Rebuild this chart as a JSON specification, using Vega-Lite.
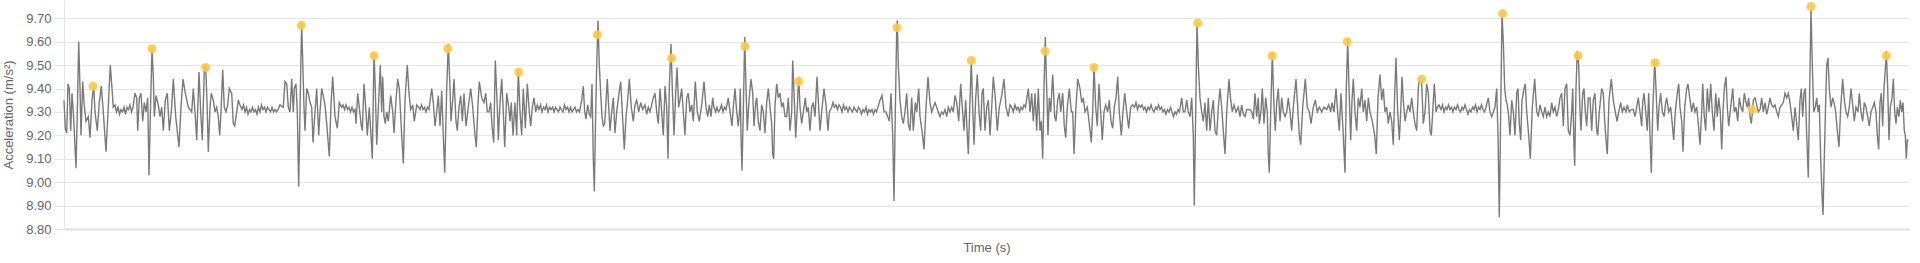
{
"$schema": "https://vega.github.io/schema/vega-lite/v6.json",
"width": 1845,
"height": 229,
"autosize": {"type": "none"},
"padding": {"left": 64, "top": 0, "right": 11, "bottom": 34},
"background": "white",
"config": {"view": {"stroke": null}, "font": "Liberation Sans"},
"datasets": {
"sig": [
{"t":0,"a":9.35},{"t":1.3,"a":9.23},{"t":2.7,"a":9.21},{"t":4,"a":9.42},{"t":5.3,"a":9.40},{"t":6.7,"a":9.22},{"t":8,"a":9.38},{"t":9.3,"a":9.30},{"t":10.7,"a":9.18},{"t":12,"a":9.06},{"t":13.3,"a":9.30},{"t":14.7,"a":9.60},{"t":16,"a":9.40},{"t":17,"a":9.20},{"t":18.7,"a":9.43},{"t":20,"a":9.34},{"t":22,"a":9.26},{"t":24.3,"a":9.28},{"t":26,"a":9.19},{"t":28,"a":9.35},{"t":29.7,"a":9.41},{"t":31,"a":9.30},{"t":33.3,"a":9.22},{"t":35.3,"a":9.34},{"t":37.3,"a":9.41},{"t":39.3,"a":9.30},{"t":42,"a":9.13},{"t":44,"a":9.30},{"t":46.3,"a":9.50},{"t":48,"a":9.40},{"t":49.3,"a":9.32},{"t":51,"a":9.33},{"t":52.5,"a":9.30},{"t":54,"a":9.32},{"t":55.5,"a":9.29},{"t":57,"a":9.31},{"t":58.5,"a":9.30},{"t":60,"a":9.32},{"t":61.5,"a":9.29},{"t":63,"a":9.32},{"t":64.5,"a":9.31},{"t":66,"a":9.33},{"t":67.5,"a":9.30},{"t":69,"a":9.32},{"t":71,"a":9.38},{"t":72.7,"a":9.36},{"t":73.7,"a":9.22},{"t":75.3,"a":9.36},{"t":77,"a":9.38},{"t":78.7,"a":9.26},{"t":80.3,"a":9.34},{"t":82,"a":9.30},{"t":83.7,"a":9.36},{"t":85,"a":9.03},{"t":86.7,"a":9.35},{"t":88,"a":9.57},{"t":89.3,"a":9.45},{"t":90.3,"a":9.28},{"t":92,"a":9.37},{"t":94.3,"a":9.33},{"t":96,"a":9.28},{"t":97.7,"a":9.32},{"t":99.3,"a":9.22},{"t":101.3,"a":9.35},{"t":103.3,"a":9.38},{"t":105.3,"a":9.22},{"t":107.3,"a":9.30},{"t":109.3,"a":9.44},{"t":111.7,"a":9.28},{"t":115,"a":9.15},{"t":117,"a":9.32},{"t":119,"a":9.44},{"t":121.3,"a":9.38},{"t":124.3,"a":9.32},{"t":127.7,"a":9.30},{"t":129.3,"a":9.40},{"t":131.3,"a":9.28},{"t":132.7,"a":9.18},{"t":135,"a":9.47},{"t":136.7,"a":9.30},{"t":138.3,"a":9.18},{"t":140.3,"a":9.48},{"t":141.7,"a":9.50},{"t":143.3,"a":9.30},{"t":144.3,"a":9.13},{"t":146,"a":9.32},{"t":147.3,"a":9.38},{"t":149.3,"a":9.35},{"t":151,"a":9.30},{"t":152.7,"a":9.32},{"t":154.3,"a":9.28},{"t":155.7,"a":9.20},{"t":157,"a":9.30},{"t":158.7,"a":9.48},{"t":160.3,"a":9.32},{"t":162,"a":9.30},{"t":163.7,"a":9.33},{"t":165.3,"a":9.40},
{"t":167.7,"a":9.38},{"t":169.3,"a":9.25},{"t":170.7,"a":9.24},{"t":172.7,"a":9.30},{"t":174.3,"a":9.35},{"t":176,"a":9.33},{"t":178,"a":9.31},{"t":179.5,"a":9.33},{"t":181,"a":9.30},{"t":182.5,"a":9.32},{"t":184,"a":9.29},{"t":185.5,"a":9.31},{"t":187,"a":9.30},{"t":188.5,"a":9.32},{"t":190,"a":9.30},{"t":191.5,"a":9.31},{"t":193,"a":9.29},{"t":194.5,"a":9.32},{"t":196,"a":9.30},{"t":197.5,"a":9.33},{"t":199,"a":9.31},{"t":200.5,"a":9.32},{"t":202,"a":9.30},{"t":203.5,"a":9.32},{"t":205,"a":9.31},{"t":206.5,"a":9.30},{"t":208,"a":9.32},{"t":209.5,"a":9.30},{"t":211,"a":9.31},{"t":212.5,"a":9.30},{"t":214,"a":9.31},{"t":216,"a":9.33},{"t":219.3,"a":9.32},{"t":221,"a":9.43},{"t":222.7,"a":9.42},{"t":224.3,"a":9.32},{"t":226,"a":9.30},{"t":227.7,"a":9.44},{"t":229.3,"a":9.30},{"t":230.3,"a":9.40},{"t":232,"a":9.42},{"t":233.3,"a":9.30},{"t":234.7,"a":8.98},{"t":236,"a":9.30},{"t":237,"a":9.55},{"t":237.7,"a":9.68},{"t":238.7,"a":9.52},{"t":240,"a":9.32},{"t":241,"a":9.22},{"t":242.7,"a":9.40},{"t":244.3,"a":9.38},{"t":246,"a":9.34},{"t":247.7,"a":9.32},{"t":249,"a":9.17},{"t":251,"a":9.30},{"t":252.7,"a":9.40},{"t":254.7,"a":9.20},{"t":256,"a":9.30},{"t":257.7,"a":9.40},{"t":261,"a":9.33},{"t":262.7,"a":9.25},{"t":265.3,"a":9.11},{"t":267,"a":9.33},{"t":268.7,"a":9.45},{"t":271,"a":9.28},{"t":273.3,"a":9.23},{"t":275.3,"a":9.34},{"t":277.5,"a":9.32},{"t":279,"a":9.33},{"t":280.5,"a":9.31},{"t":282,"a":9.33},{"t":283.5,"a":9.31},{"t":285,"a":9.32},{"t":286.5,"a":9.30},{"t":288,"a":9.32},{"t":289.5,"a":9.30},{"t":291,"a":9.31},{"t":292,"a":9.25},{"t":293.7,"a":9.38},{"t":295.3,"a":9.32},{"t":297,"a":9.25},{"t":298.3,"a":9.22},{"t":300,"a":9.42},{"t":302,"a":9.30},{"t":303.3,"a":9.20},{"t":305.3,"a":9.32},{"t":307,"a":9.20},{"t":308.3,"a":9.10},{"t":310,"a":9.55},{"t":311.3,"a":9.40},{"t":312.7,"a":9.16},{"t":314.7,"a":9.35},{"t":316.3,"a":9.50},{"t":317.7,"a":9.30},{"t":318.7,"a":9.45},{"t":320,"a":9.28},{"t":321.3,"a":9.25},{"t":322.7,"a":9.30},{"t":324.3,"a":9.26},{"t":326.7,"a":9.37},{"t":328.7,"a":9.30},{"t":330,"a":9.21},{"t":332,"a":9.35},{"t":333.7,"a":9.44},{"t":335.3,"a":9.40},
{"t":337.7,"a":9.20},{"t":339.3,"a":9.08},{"t":341,"a":9.35},{"t":343.3,"a":9.50},{"t":345,"a":9.38},{"t":346.7,"a":9.31},{"t":348.7,"a":9.33},{"t":350.3,"a":9.26},{"t":352.7,"a":9.33},{"t":354.5,"a":9.32},{"t":356,"a":9.31},{"t":357.5,"a":9.33},{"t":359,"a":9.31},{"t":360.5,"a":9.32},{"t":362,"a":9.30},{"t":363.5,"a":9.32},{"t":365,"a":9.31},{"t":367.7,"a":9.40},{"t":369.3,"a":9.34},{"t":371,"a":9.24},{"t":372.7,"a":9.30},{"t":374.3,"a":9.37},{"t":376,"a":9.24},{"t":377.7,"a":9.39},{"t":379.3,"a":9.20},{"t":380.7,"a":9.04},{"t":382.7,"a":9.40},{"t":384.3,"a":9.59},{"t":386,"a":9.40},{"t":387,"a":9.26},{"t":388.7,"a":9.35},{"t":390,"a":9.44},{"t":392,"a":9.26},{"t":393.3,"a":9.22},{"t":395,"a":9.32},{"t":396.7,"a":9.37},{"t":398.3,"a":9.26},{"t":400,"a":9.38},{"t":402,"a":9.24},{"t":404.3,"a":9.32},{"t":406.7,"a":9.40},{"t":408.7,"a":9.32},{"t":411,"a":9.20},{"t":412.3,"a":9.15},{"t":414,"a":9.33},{"t":415.3,"a":9.43},{"t":417.7,"a":9.36},{"t":420,"a":9.34},{"t":421.7,"a":9.38},{"t":423.3,"a":9.30},{"t":425,"a":9.30},{"t":426.7,"a":9.34},{"t":428,"a":9.24},{"t":429.7,"a":9.17},{"t":431.3,"a":9.52},{"t":433.3,"a":9.32},{"t":434.3,"a":9.18},{"t":436,"a":9.34},{"t":437.7,"a":9.44},{"t":439.3,"a":9.30},{"t":440.7,"a":9.15},{"t":442.7,"a":9.38},{"t":444.7,"a":9.32},{"t":446,"a":9.26},{"t":447.3,"a":9.34},{"t":449,"a":9.20},{"t":451,"a":9.34},{"t":452.7,"a":9.20},{"t":454.3,"a":9.48},{"t":456,"a":9.30},{"t":457.7,"a":9.20},{"t":459.3,"a":9.40},{"t":461.3,"a":9.23},{"t":463.3,"a":9.42},{"t":465.3,"a":9.30},{"t":466.7,"a":9.24},{"t":468.3,"a":9.32},{"t":470,"a":9.36},{"t":471.7,"a":9.30},{"t":473.3,"a":9.33},{"t":475,"a":9.31},{"t":476.5,"a":9.33},{"t":478,"a":9.30},{"t":479.5,"a":9.32},{"t":481,"a":9.31},{"t":482.5,"a":9.33},{"t":484,"a":9.30},{"t":485.5,"a":9.32},{"t":487,"a":9.31},{"t":488.5,"a":9.32},{"t":490,"a":9.30},{"t":491.5,"a":9.32},{"t":493,"a":9.31},{"t":494.5,"a":9.30},{"t":496,"a":9.32},{"t":497.5,"a":9.31},{"t":499,"a":9.30},{"t":500.5,"a":9.33},{"t":502,"a":9.31},{"t":503.5,"a":9.32},{"t":505,"a":9.30},
{"t":506.5,"a":9.32},{"t":508,"a":9.30},{"t":509.5,"a":9.31},{"t":511,"a":9.32},{"t":512.5,"a":9.30},{"t":514,"a":9.31},{"t":515.5,"a":9.30},{"t":517.7,"a":9.35},{"t":519.3,"a":9.41},{"t":520.7,"a":9.30},{"t":522,"a":9.27},{"t":523.7,"a":9.33},{"t":525.3,"a":9.29},{"t":526.7,"a":9.28},{"t":528,"a":9.42},{"t":529.3,"a":9.10},{"t":530.3,"a":8.96},{"t":531.7,"a":9.30},{"t":532.7,"a":9.50},{"t":534,"a":9.69},{"t":535.3,"a":9.50},{"t":536.7,"a":9.38},{"t":538,"a":9.28},{"t":539.3,"a":9.24},{"t":540.7,"a":9.25},{"t":542,"a":9.34},{"t":543.3,"a":9.44},{"t":544.7,"a":9.32},{"t":546,"a":9.22},{"t":547.7,"a":9.30},{"t":549.3,"a":9.36},{"t":551,"a":9.21},{"t":552.7,"a":9.30},{"t":555,"a":9.38},{"t":556.7,"a":9.43},{"t":558.3,"a":9.30},{"t":560.3,"a":9.14},{"t":562,"a":9.28},{"t":563.7,"a":9.35},{"t":565.3,"a":9.44},{"t":567.3,"a":9.32},{"t":569.3,"a":9.26},{"t":571,"a":9.33},{"t":572.7,"a":9.35},{"t":574.7,"a":9.30},{"t":576.7,"a":9.34},{"t":578.7,"a":9.31},{"t":581,"a":9.33},{"t":582.7,"a":9.29},{"t":584.3,"a":9.32},{"t":586,"a":9.30},{"t":587.7,"a":9.33},{"t":589.3,"a":9.36},{"t":591,"a":9.38},{"t":592.7,"a":9.30},{"t":594.3,"a":9.25},{"t":596,"a":9.40},{"t":597.7,"a":9.30},{"t":599.3,"a":9.20},{"t":601,"a":9.41},{"t":602.7,"a":9.32},{"t":604,"a":9.10},{"t":605.3,"a":9.40},{"t":607,"a":9.59},{"t":608.3,"a":9.40},{"t":610,"a":9.20},{"t":611.7,"a":9.38},{"t":613,"a":9.49},{"t":614.7,"a":9.32},{"t":616,"a":9.35},{"t":617.7,"a":9.40},{"t":619.3,"a":9.30},{"t":621,"a":9.20},{"t":622.7,"a":9.36},{"t":624.3,"a":9.38},{"t":626,"a":9.30},{"t":627.7,"a":9.33},{"t":629.3,"a":9.26},{"t":631.3,"a":9.43},{"t":633.3,"a":9.30},{"t":635.3,"a":9.26},{"t":637.7,"a":9.33},{"t":640,"a":9.43},{"t":642,"a":9.32},{"t":643.7,"a":9.28},{"t":645.3,"a":9.33},{"t":647,"a":9.28},{"t":648.7,"a":9.36},{"t":650,"a":9.32},{"t":651.7,"a":9.30},{"t":653,"a":9.32},{"t":654.5,"a":9.30},{"t":656,"a":9.31},{"t":657.5,"a":9.33},{"t":659,"a":9.30},{"t":660.5,"a":9.32},{"t":662,"a":9.31},{"t":664.3,"a":9.36},{"t":666,"a":9.30},{"t":668,"a":9.24},{"t":669.3,"a":9.32},{"t":671,"a":9.40},{"t":672.7,"a":9.30},{"t":674.3,"a":9.24},{"t":675.5,"a":9.30},{"t":676.3,"a":9.40},{"t":677,"a":9.20},{"t":678,"a":9.05},
{"t":679.3,"a":9.30},{"t":680.7,"a":9.62},{"t":682,"a":9.40},{"t":683.3,"a":9.22},{"t":685,"a":9.35},{"t":687,"a":9.44},{"t":688.7,"a":9.38},{"t":690,"a":9.24},{"t":691.7,"a":9.34},{"t":692.7,"a":9.36},{"t":694.3,"a":9.26},{"t":696,"a":9.22},{"t":697.7,"a":9.33},{"t":699.3,"a":9.30},{"t":701,"a":9.21},{"t":702.7,"a":9.34},{"t":704.3,"a":9.40},{"t":706,"a":9.32},{"t":707.7,"a":9.25},{"t":708.7,"a":9.12},{"t":709.7,"a":9.10},{"t":711,"a":9.33},{"t":712.7,"a":9.42},{"t":714.3,"a":9.36},{"t":716,"a":9.38},{"t":717.7,"a":9.32},{"t":719.3,"a":9.34},{"t":721,"a":9.28},{"t":722.7,"a":9.28},{"t":724.3,"a":9.36},{"t":726,"a":9.22},{"t":727.7,"a":9.30},{"t":728.7,"a":9.52},{"t":730.3,"a":9.35},{"t":731.7,"a":9.19},{"t":733.3,"a":9.32},{"t":734.7,"a":9.45},{"t":736,"a":9.32},{"t":737.7,"a":9.25},{"t":739.3,"a":9.30},{"t":741.3,"a":9.36},{"t":742.7,"a":9.30},{"t":744.3,"a":9.32},{"t":746,"a":9.22},{"t":747.7,"a":9.32},{"t":749.3,"a":9.34},{"t":751,"a":9.28},{"t":753,"a":9.45},{"t":754.7,"a":9.32},{"t":756,"a":9.22},{"t":757.7,"a":9.30},{"t":760,"a":9.40},{"t":762,"a":9.33},{"t":764,"a":9.22},{"t":765.3,"a":9.30},{"t":767.7,"a":9.32},{"t":769,"a":9.34},{"t":770.5,"a":9.32},{"t":772,"a":9.33},{"t":773.5,"a":9.31},{"t":775,"a":9.33},{"t":776.5,"a":9.32},{"t":778,"a":9.30},{"t":779.5,"a":9.33},{"t":781,"a":9.31},{"t":782.5,"a":9.32},{"t":784,"a":9.30},{"t":785.5,"a":9.32},{"t":787,"a":9.31},{"t":788.5,"a":9.30},{"t":790,"a":9.32},{"t":791.5,"a":9.31},{"t":793,"a":9.30},{"t":794.5,"a":9.32},{"t":796,"a":9.31},{"t":797.5,"a":9.29},{"t":799,"a":9.31},{"t":800.5,"a":9.30},{"t":802,"a":9.32},{"t":803.5,"a":9.29},{"t":805,"a":9.31},{"t":806.5,"a":9.30},{"t":808,"a":9.31},{"t":809.5,"a":9.29},{"t":811,"a":9.31},{"t":812.5,"a":9.30},{"t":816,"a":9.35},{"t":818,"a":9.37},{"t":820,"a":9.30},{"t":822,"a":9.30},{"t":823.7,"a":9.28},{"t":825.3,"a":9.26},{"t":827,"a":9.38},{"t":828.7,"a":9.20},{"t":830,"a":8.92},{"t":831.3,"a":9.30},{"t":832.7,"a":9.65},{"t":833.3,"a":9.69},{"t":834.3,"a":9.50},{"t":836,"a":9.35},{"t":837.7,"a":9.28},{"t":839.3,"a":9.25},{"t":841,"a":9.30},{"t":842.7,"a":9.38},{"t":844.3,"a":9.25},{"t":846,"a":9.22},
{"t":847.7,"a":9.36},{"t":849.3,"a":9.22},{"t":851.3,"a":9.34},{"t":852.7,"a":9.30},{"t":854.7,"a":9.40},{"t":856,"a":9.28},{"t":858,"a":9.22},{"t":860,"a":9.14},{"t":862,"a":9.32},{"t":864,"a":9.45},{"t":866,"a":9.34},{"t":867.7,"a":9.30},{"t":869.3,"a":9.32},{"t":871,"a":9.34},{"t":872.7,"a":9.32},{"t":874.3,"a":9.30},{"t":876,"a":9.28},{"t":877.7,"a":9.30},{"t":879.3,"a":9.29},{"t":881,"a":9.31},{"t":882.7,"a":9.28},{"t":884.3,"a":9.32},{"t":886,"a":9.30},{"t":887.7,"a":9.32},{"t":889.3,"a":9.30},{"t":891,"a":9.37},{"t":892.7,"a":9.34},{"t":894.7,"a":9.26},{"t":896.7,"a":9.42},{"t":898.3,"a":9.32},{"t":900,"a":9.22},{"t":901.7,"a":9.35},{"t":903.3,"a":9.20},{"t":904.3,"a":9.12},{"t":906,"a":9.35},{"t":907.3,"a":9.52},{"t":908.7,"a":9.32},{"t":910,"a":9.16},{"t":911.7,"a":9.36},{"t":913.3,"a":9.46},{"t":915,"a":9.30},{"t":916.7,"a":9.22},{"t":918,"a":9.38},{"t":919.3,"a":9.40},{"t":921,"a":9.22},{"t":922.7,"a":9.32},{"t":924.3,"a":9.35},{"t":926,"a":9.20},{"t":927.7,"a":9.32},{"t":929.3,"a":9.45},{"t":931.3,"a":9.36},{"t":933.3,"a":9.22},{"t":935.3,"a":9.32},{"t":937.7,"a":9.37},{"t":940,"a":9.44},{"t":942,"a":9.32},{"t":944.3,"a":9.28},{"t":946,"a":9.33},{"t":947.7,"a":9.32},{"t":949.3,"a":9.30},{"t":951,"a":9.33},{"t":952.5,"a":9.31},{"t":954,"a":9.32},{"t":955.5,"a":9.30},{"t":957,"a":9.32},{"t":958.5,"a":9.31},{"t":960,"a":9.33},{"t":961.5,"a":9.32},{"t":964.3,"a":9.40},{"t":966,"a":9.30},{"t":967.7,"a":9.38},{"t":969.3,"a":9.26},{"t":971,"a":9.38},{"t":972.7,"a":9.22},{"t":974.3,"a":9.40},{"t":976,"a":9.22},{"t":977.3,"a":9.26},{"t":978.7,"a":9.10},{"t":980,"a":9.40},{"t":981.3,"a":9.62},{"t":982.7,"a":9.40},{"t":984,"a":9.20},{"t":985.3,"a":9.36},{"t":986.7,"a":9.30},{"t":988.7,"a":9.46},{"t":990.7,"a":9.28},{"t":992,"a":9.26},{"t":993.7,"a":9.35},{"t":995.3,"a":9.38},{"t":996.7,"a":9.30},{"t":998.7,"a":9.38},{"t":1000.3,"a":9.24},{"t":1001.7,"a":9.19},{"t":1003.3,"a":9.32},{"t":1005.3,"a":9.40},{"t":1007.3,"a":9.30},{"t":1008.7,"a":9.30},{"t":1010,"a":9.12},{"t":1011.7,"a":9.30},{"t":1013.7,"a":9.44},{"t":1016,"a":9.40},
{"t":1017.7,"a":9.34},{"t":1019.3,"a":9.36},{"t":1021,"a":9.30},{"t":1023.3,"a":9.32},{"t":1025.3,"a":9.25},{"t":1027.3,"a":9.17},{"t":1028.7,"a":9.30},{"t":1030,"a":9.50},{"t":1031.7,"a":9.32},{"t":1033.3,"a":9.24},{"t":1035,"a":9.42},{"t":1036.7,"a":9.30},{"t":1038.3,"a":9.18},{"t":1040,"a":9.30},{"t":1041.7,"a":9.33},{"t":1043.7,"a":9.30},{"t":1045.3,"a":9.35},{"t":1047,"a":9.26},{"t":1048.7,"a":9.23},{"t":1050.3,"a":9.32},{"t":1052,"a":9.36},{"t":1053.7,"a":9.45},{"t":1055.3,"a":9.30},{"t":1057.3,"a":9.20},{"t":1059,"a":9.30},{"t":1060.7,"a":9.38},{"t":1062.7,"a":9.30},{"t":1064.7,"a":9.23},{"t":1066.7,"a":9.32},{"t":1068.7,"a":9.33},{"t":1070.5,"a":9.32},{"t":1072,"a":9.34},{"t":1073.5,"a":9.31},{"t":1075,"a":9.33},{"t":1076.5,"a":9.32},{"t":1078,"a":9.33},{"t":1079.5,"a":9.31},{"t":1081,"a":9.32},{"t":1082.5,"a":9.30},{"t":1084,"a":9.32},{"t":1085.5,"a":9.31},{"t":1087,"a":9.33},{"t":1088.5,"a":9.31},{"t":1090,"a":9.30},{"t":1091.5,"a":9.32},{"t":1093,"a":9.31},{"t":1094.5,"a":9.33},{"t":1096,"a":9.31},{"t":1097.5,"a":9.32},{"t":1099,"a":9.30},{"t":1100.5,"a":9.31},{"t":1102,"a":9.29},{"t":1103.5,"a":9.31},{"t":1105,"a":9.30},{"t":1106.5,"a":9.32},{"t":1108,"a":9.30},{"t":1109.5,"a":9.28},{"t":1111,"a":9.30},{"t":1112.5,"a":9.29},{"t":1114,"a":9.31},{"t":1115.5,"a":9.30},{"t":1117.7,"a":9.36},{"t":1119.3,"a":9.30},{"t":1121,"a":9.30},{"t":1122.7,"a":9.35},{"t":1124.3,"a":9.30},{"t":1126,"a":9.28},{"t":1127.7,"a":9.36},{"t":1129.3,"a":9.20},{"t":1130.3,"a":8.90},{"t":1131.7,"a":9.30},{"t":1133,"a":9.68},{"t":1134.3,"a":9.50},{"t":1136,"a":9.36},{"t":1137.7,"a":9.30},{"t":1139.3,"a":9.26},{"t":1141,"a":9.34},{"t":1142.7,"a":9.22},{"t":1144.3,"a":9.36},{"t":1146,"a":9.22},{"t":1147.7,"a":9.30},{"t":1149.3,"a":9.35},{"t":1151,"a":9.22},{"t":1152.7,"a":9.20},{"t":1154.3,"a":9.32},{"t":1156,"a":9.40},{"t":1157.7,"a":9.32},{"t":1159.3,"a":9.22},{"t":1161,"a":9.12},{"t":1162.7,"a":9.30},{"t":1165,"a":9.44},{"t":1166.7,"a":9.35},{"t":1168.3,"a":9.30},{"t":1170,"a":9.33},{"t":1172,"a":9.30},{"t":1174.3,"a":9.32},{"t":1176,"a":9.28},{"t":1177.7,"a":9.33},{"t":1179.3,"a":9.29},{"t":1181,"a":9.28},{"t":1182.7,"a":9.31},{"t":1186,"a":9.31},
{"t":1187.7,"a":9.30},{"t":1189.3,"a":9.27},{"t":1191,"a":9.38},{"t":1192.7,"a":9.28},{"t":1194.3,"a":9.36},{"t":1195.3,"a":9.25},{"t":1197,"a":9.30},{"t":1198.3,"a":9.40},{"t":1200,"a":9.25},{"t":1201.7,"a":9.36},{"t":1203.3,"a":9.30},{"t":1204.3,"a":9.12},{"t":1205.3,"a":9.04},{"t":1206.7,"a":9.30},{"t":1208.3,"a":9.55},{"t":1210,"a":9.32},{"t":1211.3,"a":9.22},{"t":1212.7,"a":9.34},{"t":1214.3,"a":9.40},{"t":1216,"a":9.26},{"t":1217.7,"a":9.36},{"t":1219.3,"a":9.30},{"t":1221,"a":9.28},{"t":1222.7,"a":9.30},{"t":1224.3,"a":9.36},{"t":1226,"a":9.30},{"t":1227.7,"a":9.22},{"t":1229.3,"a":9.32},{"t":1232,"a":9.44},{"t":1233.7,"a":9.32},{"t":1235.3,"a":9.20},{"t":1236.7,"a":9.16},{"t":1238.7,"a":9.32},{"t":1241.3,"a":9.44},{"t":1243.3,"a":9.32},{"t":1245.3,"a":9.30},{"t":1247,"a":9.25},{"t":1249.3,"a":9.32},{"t":1251.3,"a":9.35},{"t":1253.3,"a":9.30},{"t":1255.3,"a":9.32},{"t":1257.7,"a":9.30},{"t":1260,"a":9.32},{"t":1262.7,"a":9.31},{"t":1264.7,"a":9.33},{"t":1266.7,"a":9.30},{"t":1268,"a":9.34},{"t":1270,"a":9.30},{"t":1272,"a":9.40},{"t":1274,"a":9.28},{"t":1275.3,"a":9.22},{"t":1277,"a":9.38},{"t":1278,"a":9.30},{"t":1279.3,"a":9.20},{"t":1281,"a":9.04},{"t":1282.3,"a":9.40},{"t":1283.7,"a":9.61},{"t":1285,"a":9.40},{"t":1286.7,"a":9.18},{"t":1288,"a":9.35},{"t":1289.3,"a":9.44},{"t":1291,"a":9.30},{"t":1292.7,"a":9.22},{"t":1294.3,"a":9.36},{"t":1296,"a":9.32},{"t":1297.7,"a":9.40},{"t":1299.3,"a":9.30},{"t":1301,"a":9.35},{"t":1302.7,"a":9.26},{"t":1304.3,"a":9.36},{"t":1306,"a":9.30},{"t":1308.3,"a":9.26},{"t":1310.7,"a":9.20},{"t":1312.3,"a":9.12},{"t":1314,"a":9.36},{"t":1316,"a":9.46},{"t":1317.7,"a":9.35},{"t":1319.3,"a":9.40},{"t":1321,"a":9.30},{"t":1322.7,"a":9.32},{"t":1324.3,"a":9.25},{"t":1326,"a":9.30},{"t":1327.7,"a":9.26},{"t":1329.3,"a":9.16},{"t":1330.7,"a":9.38},{"t":1332,"a":9.53},{"t":1333.7,"a":9.30},{"t":1335.3,"a":9.18},{"t":1336.7,"a":9.30},{"t":1338,"a":9.45},{"t":1339.3,"a":9.35},{"t":1341,"a":9.26},{"t":1342.7,"a":9.30},{"t":1344.3,"a":9.33},{"t":1346,"a":9.30},{"t":1347.7,"a":9.36},{"t":1349.3,"a":9.30},{"t":1351,"a":9.25},{"t":1352.7,"a":9.22},{"t":1354.3,"a":9.40},{"t":1355.3,"a":9.44},
{"t":1357.7,"a":9.42},{"t":1359.3,"a":9.25},{"t":1361,"a":9.30},{"t":1362.7,"a":9.42},{"t":1364.3,"a":9.38},{"t":1366,"a":9.22},{"t":1367.3,"a":9.20},{"t":1368.7,"a":9.30},{"t":1370.3,"a":9.42},{"t":1372,"a":9.30},{"t":1373.3,"a":9.32},{"t":1375,"a":9.33},{"t":1377,"a":9.31},{"t":1378.5,"a":9.33},{"t":1380,"a":9.30},{"t":1381.5,"a":9.32},{"t":1383,"a":9.31},{"t":1384.5,"a":9.33},{"t":1386,"a":9.31},{"t":1387.5,"a":9.32},{"t":1389,"a":9.30},{"t":1390.5,"a":9.32},{"t":1392,"a":9.31},{"t":1393.5,"a":9.33},{"t":1395,"a":9.31},{"t":1396.5,"a":9.30},{"t":1398,"a":9.32},{"t":1399.5,"a":9.31},{"t":1401,"a":9.33},{"t":1402.5,"a":9.31},{"t":1404,"a":9.29},{"t":1405.5,"a":9.31},{"t":1407,"a":9.30},{"t":1408.5,"a":9.32},{"t":1410,"a":9.31},{"t":1411.5,"a":9.33},{"t":1413,"a":9.30},{"t":1414.5,"a":9.32},{"t":1416,"a":9.31},{"t":1417.5,"a":9.33},{"t":1419,"a":9.31},{"t":1420.5,"a":9.30},{"t":1422,"a":9.32},{"t":1424.3,"a":9.36},{"t":1426,"a":9.30},{"t":1427.7,"a":9.28},{"t":1429.3,"a":9.30},{"t":1431,"a":9.32},{"t":1432.7,"a":9.40},{"t":1434,"a":9.20},{"t":1435.3,"a":8.85},{"t":1436.7,"a":9.30},{"t":1438,"a":9.72},{"t":1439.3,"a":9.60},{"t":1440.7,"a":9.40},{"t":1442,"a":9.35},{"t":1443.3,"a":9.33},{"t":1444.7,"a":9.28},{"t":1446,"a":9.20},{"t":1447.7,"a":9.35},{"t":1449.3,"a":9.30},{"t":1451,"a":9.20},{"t":1452.7,"a":9.38},{"t":1454,"a":9.40},{"t":1455.3,"a":9.25},{"t":1456.7,"a":9.18},{"t":1458,"a":9.35},{"t":1460,"a":9.40},{"t":1461.3,"a":9.42},{"t":1462.7,"a":9.30},{"t":1464.7,"a":9.20},{"t":1466.3,"a":9.10},{"t":1468.3,"a":9.32},{"t":1470.7,"a":9.44},{"t":1472.7,"a":9.30},{"t":1474.3,"a":9.28},{"t":1476,"a":9.33},{"t":1477.7,"a":9.30},{"t":1479.3,"a":9.28},{"t":1481,"a":9.32},{"t":1482.7,"a":9.28},{"t":1484.3,"a":9.30},{"t":1486,"a":9.28},{"t":1487.7,"a":9.34},{"t":1489.3,"a":9.30},{"t":1491,"a":9.32},{"t":1492.7,"a":9.28},{"t":1494.3,"a":9.31},{"t":1496,"a":9.36},{"t":1497.7,"a":9.38},{"t":1499.3,"a":9.24},{"t":1501,"a":9.40},{"t":1502.7,"a":9.42},{"t":1504.3,"a":9.22},{"t":1506,"a":9.20},{"t":1507.7,"a":9.30},{"t":1508.7,"a":9.40},{"t":1510,"a":9.15},{"t":1510.7,"a":9.07},{"t":1512,"a":9.40},{"t":1513.3,"a":9.56},{"t":1514.7,"a":9.50},{"t":1516,"a":9.30},{"t":1517,"a":9.22},{"t":1518.7,"a":9.38},{"t":1520,"a":9.40},{"t":1521.3,"a":9.30},{"t":1522.7,"a":9.24},{"t":1524.3,"a":9.36},{"t":1526,"a":9.36},
{"t":1527.7,"a":9.22},{"t":1529.3,"a":9.35},{"t":1531,"a":9.38},{"t":1532.7,"a":9.22},{"t":1533.7,"a":9.20},{"t":1535.3,"a":9.30},{"t":1537.7,"a":9.40},{"t":1539.3,"a":9.38},{"t":1540.7,"a":9.26},{"t":1542,"a":9.18},{"t":1543.3,"a":9.12},{"t":1545,"a":9.35},{"t":1547.3,"a":9.44},{"t":1549.3,"a":9.35},{"t":1551.3,"a":9.30},{"t":1553,"a":9.26},{"t":1554.7,"a":9.30},{"t":1556.7,"a":9.34},{"t":1558.3,"a":9.30},{"t":1560,"a":9.32},{"t":1562,"a":9.30},{"t":1563.3,"a":9.33},{"t":1565.3,"a":9.30},{"t":1567.3,"a":9.31},{"t":1569.3,"a":9.31},{"t":1571,"a":9.28},{"t":1572.7,"a":9.32},{"t":1574.3,"a":9.36},{"t":1576,"a":9.30},{"t":1577.7,"a":9.24},{"t":1578.7,"a":9.34},{"t":1580,"a":9.38},{"t":1581.7,"a":9.30},{"t":1583.3,"a":9.22},{"t":1584.7,"a":9.38},{"t":1586,"a":9.20},{"t":1587.3,"a":9.04},{"t":1588.7,"a":9.30},{"t":1590.7,"a":9.52},{"t":1592,"a":9.40},{"t":1593.7,"a":9.22},{"t":1595,"a":9.32},{"t":1596.7,"a":9.38},{"t":1598.3,"a":9.30},{"t":1600,"a":9.28},{"t":1601.7,"a":9.34},{"t":1602.7,"a":9.36},{"t":1604.7,"a":9.30},{"t":1606.7,"a":9.32},{"t":1608,"a":9.26},{"t":1609.7,"a":9.18},{"t":1611.3,"a":9.30},{"t":1613.3,"a":9.38},{"t":1614.7,"a":9.42},{"t":1616,"a":9.32},{"t":1617.7,"a":9.26},{"t":1619,"a":9.13},{"t":1620.7,"a":9.32},{"t":1622.7,"a":9.40},{"t":1624,"a":9.42},{"t":1626,"a":9.35},{"t":1627.7,"a":9.30},{"t":1629.3,"a":9.34},{"t":1631,"a":9.30},{"t":1632.7,"a":9.32},{"t":1634.3,"a":9.25},{"t":1636,"a":9.16},{"t":1637.7,"a":9.30},{"t":1638.7,"a":9.42},{"t":1640.3,"a":9.28},{"t":1641.7,"a":9.22},{"t":1643.3,"a":9.40},{"t":1645,"a":9.30},{"t":1646.7,"a":9.42},{"t":1648.3,"a":9.30},{"t":1650,"a":9.22},{"t":1651.7,"a":9.38},{"t":1653.3,"a":9.28},{"t":1654.7,"a":9.36},{"t":1656.3,"a":9.30},{"t":1657.7,"a":9.14},{"t":1659,"a":9.30},{"t":1660.3,"a":9.40},{"t":1662,"a":9.45},{"t":1663.3,"a":9.32},{"t":1664.7,"a":9.24},{"t":1666.7,"a":9.32},{"t":1668.7,"a":9.40},{"t":1670.3,"a":9.30},{"t":1672,"a":9.32},{"t":1673.7,"a":9.26},{"t":1675.3,"a":9.36},{"t":1677,"a":9.32},{"t":1678.7,"a":9.30},{"t":1680.3,"a":9.38},{"t":1682,"a":9.34},{"t":1683.3,"a":9.32},{"t":1684.7,"a":9.36},{"t":1686,"a":9.28},{"t":1687.3,"a":9.25},{"t":1688.7,"a":9.31},{"t":1689.3,"a":9.35},{"t":1691,"a":9.36},{"t":1692.7,"a":9.33},{"t":1694.3,"a":9.30},{"t":1696,"a":9.31},
{"t":1697.7,"a":9.36},{"t":1699.3,"a":9.30},{"t":1701,"a":9.34},{"t":1702.7,"a":9.29},{"t":1704.3,"a":9.32},{"t":1706,"a":9.36},{"t":1707.7,"a":9.33},{"t":1709.3,"a":9.32},{"t":1711,"a":9.33},{"t":1712.7,"a":9.30},{"t":1714.3,"a":9.28},{"t":1716,"a":9.32},{"t":1717.7,"a":9.33},{"t":1719.3,"a":9.34},{"t":1721,"a":9.38},{"t":1722.7,"a":9.36},{"t":1724.3,"a":9.38},{"t":1726,"a":9.34},{"t":1727.7,"a":9.28},{"t":1729.3,"a":9.22},{"t":1731,"a":9.32},{"t":1732.7,"a":9.25},{"t":1734.3,"a":9.18},{"t":1736,"a":9.35},{"t":1737.3,"a":9.40},{"t":1738.7,"a":9.28},{"t":1740,"a":9.38},{"t":1741.3,"a":9.40},{"t":1742.7,"a":9.20},{"t":1744.3,"a":9.02},{"t":1745.7,"a":9.40},{"t":1747,"a":9.74},{"t":1748.3,"a":9.50},{"t":1749.7,"a":9.30},{"t":1751.3,"a":9.32},{"t":1752.7,"a":9.36},{"t":1754,"a":9.30},{"t":1755.3,"a":9.33},{"t":1756.7,"a":9.10},{"t":1758,"a":8.95},{"t":1759,"a":8.86},{"t":1760.3,"a":9.10},{"t":1761.7,"a":9.35},{"t":1762.7,"a":9.50},{"t":1764,"a":9.53},{"t":1765.3,"a":9.40},{"t":1767,"a":9.32},{"t":1768.7,"a":9.36},{"t":1770,"a":9.34},{"t":1771.7,"a":9.30},{"t":1773.3,"a":9.22},{"t":1775,"a":9.15},{"t":1776.7,"a":9.32},{"t":1778.7,"a":9.44},{"t":1780.3,"a":9.35},{"t":1782,"a":9.30},{"t":1783.7,"a":9.28},{"t":1785.3,"a":9.32},{"t":1787,"a":9.40},{"t":1788.7,"a":9.33},{"t":1790.3,"a":9.26},{"t":1792,"a":9.32},{"t":1794,"a":9.30},{"t":1795.3,"a":9.38},{"t":1797,"a":9.30},{"t":1798.7,"a":9.26},{"t":1800.3,"a":9.34},{"t":1802,"a":9.32},{"t":1803.7,"a":9.28},{"t":1805.3,"a":9.24},{"t":1807,"a":9.30},{"t":1808.7,"a":9.32},{"t":1810.3,"a":9.34},{"t":1812,"a":9.30},{"t":1813.3,"a":9.20},{"t":1814.7,"a":9.14},{"t":1816,"a":9.34},{"t":1817.3,"a":9.38},{"t":1818.7,"a":9.24},{"t":1820,"a":9.40},{"t":1821.3,"a":9.48},{"t":1822.3,"a":9.56},{"t":1823.7,"a":9.40},{"t":1825,"a":9.18},{"t":1826.3,"a":9.32},{"t":1828,"a":9.36},{"t":1829.3,"a":9.44},{"t":1830.7,"a":9.30},{"t":1832,"a":9.25},{"t":1833.3,"a":9.32},{"t":1835,"a":9.28},{"t":1836.3,"a":9.35},{"t":1837.7,"a":9.30},{"t":1839,"a":9.34},{"t":1840.3,"a":9.22},{"t":1841.3,"a":9.20},{"t":1842.3,"a":9.10},{"t":1843.3,"a":9.18},{"t":1844.3,"a":9.18}
],
"pk": [
{"t":29.0,"a":9.41},{"t":88.0,"a":9.57},{"t":141.7,"a":9.49},{"t":237.3,"a":9.67},{"t":310.0,"a":9.54},{"t":383.7,"a":9.57},{"t":454.7,"a":9.47},{"t":533.3,"a":9.63},{"t":607.7,"a":9.53},{"t":681.0,"a":9.58},{"t":734.7,"a":9.43},{"t":833.0,"a":9.66},{"t":907.3,"a":9.52},{"t":981.0,"a":9.56},{"t":1030.0,"a":9.49},{"t":1133.7,"a":9.68},{"t":1208.3,"a":9.54},{"t":1283.3,"a":9.60},{"t":1357.7,"a":9.44},{"t":1438.7,"a":9.72},{"t":1514.0,"a":9.54},{"t":1591.0,"a":9.51},{"t":1688.3,"a":9.31},{"t":1747.0,"a":9.75},{"t":1822.3,"a":9.54}
]
},
"layer": [
{
"data": {"name": "sig"},
"mark": {"type": "line", "color": "#7a7a7a", "strokeWidth": 1.4, "interpolate": "linear"},
"encoding": {
"x": {"field": "t", "type": "quantitative", "scale": {"domain": [0, 1845], "nice": false, "zero": false},
"axis": {"title": "Time (s)", "labels": false, "ticks": false, "grid": false, "domainColor": "#dddddd", "domainWidth": 2, "titleFontSize": 13, "titleFontWeight": "normal", "titleColor": "#666666", "titlePadding": 12, "titleFont": "Liberation Sans"}},
"y": {"field": "a", "type": "quantitative", "scale": {"domain": [8.8, 9.778], "nice": false, "zero": false},
"axis": {"title": "Acceleration (m/s²)", "values": [8.8, 8.9, 9.0, 9.1, 9.2, 9.3, 9.4, 9.5, 9.6, 9.7], "tickCount": 20, "format": ".2f", "labelOverlap": false, "labelBound": false, "labelFlush": false, "labelFontSize": 13, "labelColor": "#666666", "labelFont": "Liberation Sans", "labelPadding": 3, "tickSize": 10, "tickColor": "#e6e6e6", "gridColor": "#e6e6e6", "domainColor": "#e6e6e6", "titleFontSize": 13, "titleFontWeight": "normal", "titleColor": "#666666", "titleFont": "Liberation Sans", "titlePadding": 10}}
}
},
{
"data": {"name": "pk"},
"mark": {"type": "circle", "size": 80, "color": "#ffc83d", "opacity": 0.9},
"encoding": {
"x": {"field": "t", "type": "quantitative"},
"y": {"field": "a", "type": "quantitative"}
}
}
]
}
